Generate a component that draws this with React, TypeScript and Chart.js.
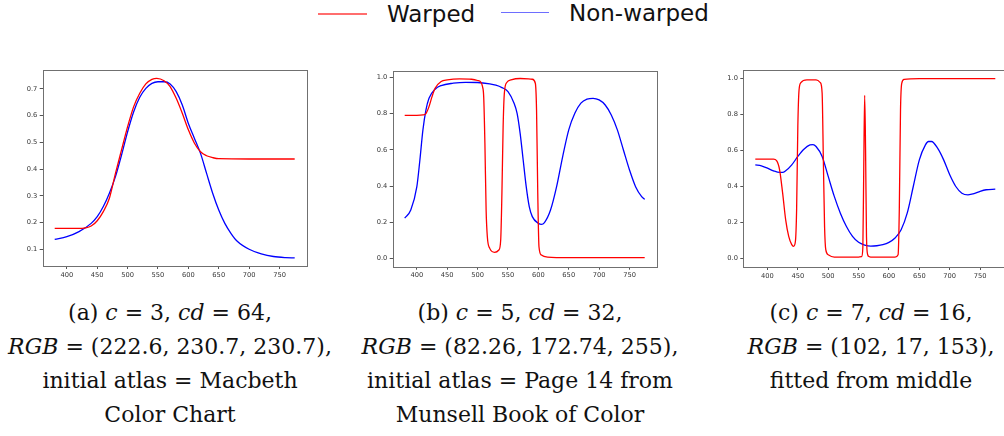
import React, { useEffect, useRef } from "react";
import { Chart, registerables } from "chart.js";

Chart.register(...registerables);

// ---------- data ----------
const xTicks = [400, 450, 500, 550, 600, 650, 700, 750];
const yTicksA = [0.1, 0.2, 0.3, 0.4, 0.5, 0.6, 0.7];
const yTicksBC = [0.0, 0.2, 0.4, 0.6, 0.8, 1.0];

const legendLabels = ["Warped", "Non-warped"];

// (a)
const aWarpedX = [380, 400, 420, 430, 440, 450, 460, 470, 480, 490, 500, 510, 520, 530, 540, 548, 560, 570, 580, 590, 600, 610, 620, 630, 640, 650, 700, 775];
const aWarpedY = [0.178, 0.178, 0.178, 0.18, 0.187, 0.207, 0.241, 0.291, 0.384, 0.472, 0.559, 0.634, 0.684, 0.719, 0.736, 0.74, 0.731, 0.709, 0.665, 0.609, 0.547, 0.497, 0.465, 0.45, 0.443, 0.439, 0.438, 0.438];
const aPlainX = [380, 400, 420, 440, 450, 460, 470, 480, 490, 500, 510, 520, 530, 540, 550, 560, 570, 580, 590, 600, 610, 620, 630, 640, 650, 660, 670, 680, 700, 720, 740, 760, 775];
const aPlainY = [0.137, 0.147, 0.166, 0.197, 0.222, 0.26, 0.31, 0.372, 0.453, 0.54, 0.615, 0.669, 0.702, 0.721, 0.727, 0.727, 0.719, 0.69, 0.64, 0.571, 0.515, 0.459, 0.384, 0.31, 0.247, 0.197, 0.16, 0.131, 0.1, 0.083, 0.073, 0.069, 0.068];

// (b)
const bWarpedX = [380, 400, 410, 415, 420, 425, 430, 440, 450, 470, 490, 500, 505, 508, 510, 512, 514, 516, 520, 528, 535, 538, 540, 542, 544, 548, 555, 570, 590, 595, 597, 599, 601, 605, 615, 650, 775];
const bWarpedY = [0.79, 0.79, 0.792, 0.8, 0.838, 0.893, 0.939, 0.976, 0.985, 0.991, 0.989, 0.982, 0.974, 0.949, 0.893, 0.636, 0.268, 0.121, 0.057, 0.035, 0.048, 0.103, 0.36, 0.728, 0.912, 0.971, 0.985, 0.993, 0.989, 0.967, 0.82, 0.36, 0.066, 0.02, 0.009, 0.006, 0.006];
const bPlainX = [380, 390, 400, 405, 410, 415, 420, 430, 440, 460, 480, 500, 520, 530, 540, 550, 560, 565, 570, 575, 580, 585, 590, 600, 605, 610, 620, 630, 640, 650, 660, 670, 680, 690, 700, 710, 720, 730, 740, 750, 760, 770, 775];
const bPlainY = [0.224, 0.268, 0.397, 0.544, 0.71, 0.82, 0.884, 0.934, 0.954, 0.967, 0.972, 0.971, 0.963, 0.956, 0.943, 0.921, 0.857, 0.801, 0.691, 0.544, 0.397, 0.287, 0.232, 0.195, 0.189, 0.199, 0.268, 0.397, 0.563, 0.71, 0.801, 0.857, 0.879, 0.884, 0.875, 0.847, 0.792, 0.71, 0.599, 0.489, 0.397, 0.342, 0.327];

// (c)
const cWarpedX = [380, 410, 415, 420, 425, 430, 435, 440, 443, 446, 448, 450, 452, 455, 465, 480, 487, 490, 492, 494, 496, 500, 510, 550, 555, 557, 558.5, 560, 561.5, 563, 565, 567, 570, 610, 615, 617, 619, 621, 625, 650, 775];
const cWarpedY = [0.551, 0.551, 0.543, 0.492, 0.362, 0.214, 0.122, 0.076, 0.067, 0.094, 0.27, 0.732, 0.935, 0.976, 0.991, 0.991, 0.976, 0.917, 0.547, 0.177, 0.048, 0.02, 0.007, 0.007, 0.01, 0.06, 0.5, 0.905, 0.6, 0.12, 0.02, 0.01, 0.007, 0.007, 0.02, 0.27, 0.824, 0.972, 0.994, 0.998, 0.998];
const cPlainX = [380, 390, 400, 410, 420, 425, 430, 440, 450, 460, 470, 475, 480, 490, 500, 510, 520, 530, 540, 550, 560, 570, 580, 590, 600, 610, 620, 630, 640, 650, 660, 665, 670, 680, 690, 700, 710, 720, 730, 740, 750, 760, 775];
const cPlainY = [0.519, 0.514, 0.501, 0.486, 0.477, 0.477, 0.486, 0.519, 0.566, 0.606, 0.63, 0.632, 0.621, 0.566, 0.455, 0.344, 0.251, 0.177, 0.122, 0.089, 0.074, 0.068, 0.07, 0.076, 0.089, 0.113, 0.159, 0.251, 0.399, 0.547, 0.63, 0.649, 0.649, 0.612, 0.547, 0.464, 0.399, 0.362, 0.353, 0.359, 0.372, 0.381, 0.384];

const captionA = ["(a)|c| = 3, |cd| = 64,", "|RGB| = (222.6, 230.7, 230.7),", "initial atlas = Macbeth", "Color Chart"];
const captionB = ["(b)|c| = 5, |cd| = 32,", "|RGB| = (82.26, 172.74, 255),", "initial atlas = Page 14 from", "Munsell Book of Color"];
const captionC = ["(c)|c| = 7, |cd| = 16,", "|RGB| = (102, 17, 153),", "fitted from middle"];

const RED = "#ff0000";
const BLUE = "#0000ff";

const framePlugin = {
  id: "frame",
  afterDraw(chart: any) {
    const { ctx, chartArea: a } = chart;
    ctx.save();
    ctx.strokeStyle = "#707070";
    ctx.lineWidth = 1;
    ctx.strokeRect(Math.round(a.left) + 0.5, Math.round(a.top) + 0.5, Math.round(a.right - a.left), Math.round(a.bottom - a.top));
    ctx.restore();
  },
};

type PlotProps = {
  left: number; top: number; width: number; height: number;
  yW: number; padTop: number; padRight: number; xH: number;
  yMin: number; yMax: number; yTicks: number[];
  wx: number[]; wy: number[]; px: number[]; py: number[];
};

function Plot(p: PlotProps) {
  const ref = useRef<HTMLCanvasElement>(null);
  useEffect(() => {
    const tickFont = { family: "DejaVu Sans", size: 6.7 };
    const chart = new Chart(ref.current!, {
      type: "line",
      data: {
        datasets: [
          { label: legendLabels[0], data: p.wx.map((x, i) => ({ x, y: p.wy[i] })), borderColor: RED, borderWidth: 1.3, pointRadius: 0, cubicInterpolationMode: "monotone", fill: false },
          { label: legendLabels[1], data: p.px.map((x, i) => ({ x, y: p.py[i] })), borderColor: BLUE, borderWidth: 1.3, pointRadius: 0, cubicInterpolationMode: "monotone", fill: false },
        ],
      },
      options: {
        animation: false,
        responsive: false,
        devicePixelRatio: 1,
        layout: { padding: { top: p.padTop, right: p.padRight, left: 0, bottom: 0 } },
        plugins: { legend: { display: false }, tooltip: { enabled: false } },
        scales: {
          x: {
            type: "linear", min: 360.25, max: 794.75,
            afterBuildTicks: (s: any) => { s.ticks = xTicks.map((v) => ({ value: v })); },
            afterFit: (s: any) => { s.height = p.xH; },
            grid: { display: true, drawOnChartArea: false, drawTicks: true, tickLength: 3, tickColor: "#555" },
            border: { display: false },
            ticks: { font: tickFont, color: "#333", padding: 2, maxRotation: 0, autoSkip: false, callback: (v: any) => String(v) },
          },
          y: {
            type: "linear", min: p.yMin, max: p.yMax,
            afterBuildTicks: (s: any) => { s.ticks = p.yTicks.map((v) => ({ value: v })); },
            afterFit: (s: any) => { s.width = p.yW; },
            grid: { display: true, drawOnChartArea: false, drawTicks: true, tickLength: 3, tickColor: "#555" },
            border: { display: false },
            ticks: { font: tickFont, color: "#333", padding: 2.4, autoSkip: false, callback: (v: any) => Number(v).toFixed(1) },
          },
        },
      } as any,
      plugins: [framePlugin],
    });
    return () => chart.destroy();
  }, []);
  return (
    <canvas ref={ref} width={p.width} height={p.height}
      style={{ position: "absolute", left: p.left, top: p.top, width: p.width, height: p.height }} />
  );
}

function Caption({ lines, cx, top }: { lines: string[]; cx: number; top: number }) {
  return (
    <div style={{ position: "absolute", left: cx - 220, top, width: 440, textAlign: "center", fontFamily: "'DejaVu Serif', serif", fontSize: 22, lineHeight: "34px", color: "#111", whiteSpace: "nowrap" }}>
      {lines.map((ln, i) => {
        const parts = ln.split("|");
        return (
          <div key={i}>
            {parts.map((t, j) => (j % 2 === 1 ? <i key={j}>{t}</i> : <span key={j}>{j === 0 && i === 0 ? t + " " : t}</span>))}
          </div>
        );
      })}
    </div>
  );
}

export default function App() {
  return (
    <div style={{ position: "fixed", left: 0, top: 0, width: 1004, height: 436, overflow: "hidden", background: "#fff" }}>
      {/* legend */}
      <div style={{ position: "absolute", left: 318, top: 13, width: 49, height: 1.5, background: "#ff6e6e" }} />
      <span style={{ position: "absolute", left: 387, top: 3, fontFamily: "'DejaVu Sans', sans-serif", fontSize: 23, lineHeight: "23px", color: "#111", whiteSpace: "nowrap" }}>{legendLabels[0]}</span>
      <div style={{ position: "absolute", left: 501, top: 11.5, width: 48, height: 1.5, background: "#6e6eff" }} />
      <span style={{ position: "absolute", left: 569, top: 1.5, fontFamily: "'DejaVu Sans', sans-serif", fontSize: 23, lineHeight: "23px", color: "#111", whiteSpace: "nowrap" }}>{legendLabels[1]}</span>

      <Plot left={0} top={60} width={320} height={230} yW={42.7} padTop={10} padRight={13.3} xH={24}
        yMin={0.0375} yMax={0.771} yTicks={yTicksA} wx={aWarpedX} wy={aWarpedY} px={aPlainX} py={aPlainY} />
      <Plot left={350} top={60} width={320} height={230} yW={42.7} padTop={10.7} padRight={13.3} xH={23.3}
        yMin={-0.044} yMax={1.036} yTicks={yTicksBC} wx={bWarpedX} wy={bWarpedY} px={bPlainX} py={bPlainY} />
      <Plot left={700} top={60} width={320} height={230} yW={43.3} padTop={10} padRight={12.7} xH={23}
        yMin={-0.048} yMax={1.046} yTicks={yTicksBC} wx={cWarpedX} wy={cWarpedY} px={cPlainX} py={cPlainY} />

      <Caption lines={captionA} cx={170} top={296} />
      <Caption lines={captionB} cx={520} top={296} />
      <Caption lines={captionC} cx={871} top={296} />
    </div>
  );
}
